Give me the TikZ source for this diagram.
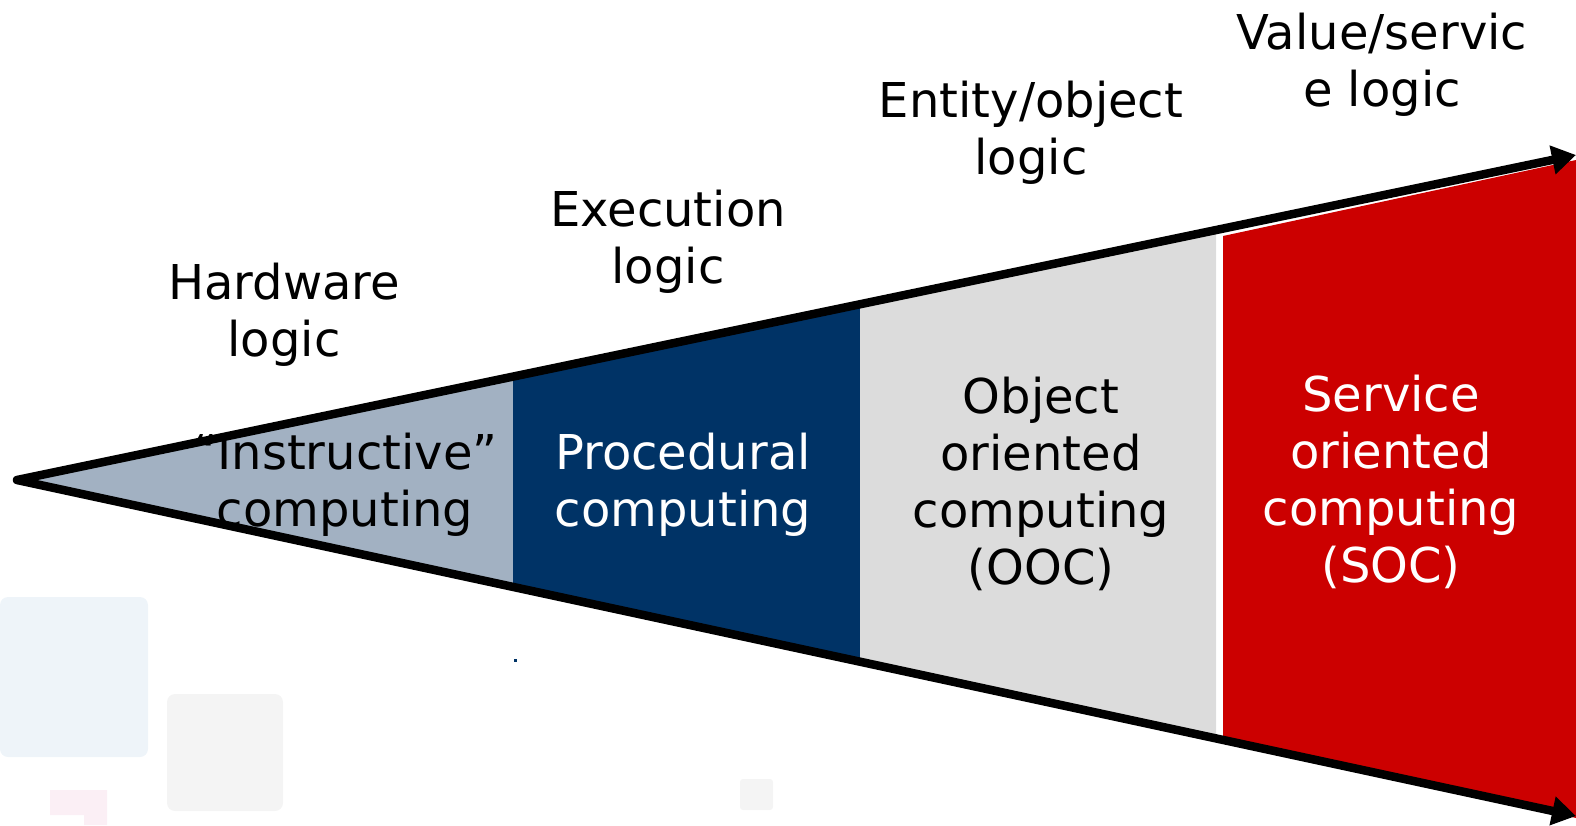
\documentclass[tikz,border=0pt]{standalone}
\usepackage{fontspec}
\setmainfont{DejaVu Sans}
\usetikzlibrary{arrows.meta}
\definecolor{steel}{HTML}{A2B1C2}
\definecolor{navy}{HTML}{003366}
\definecolor{lgray}{HTML}{DCDCDC}
\definecolor{dred}{HTML}{CC0000}
\definecolor{fblue}{HTML}{EEF4F9}
\definecolor{fgray}{HTML}{F4F4F4}
\definecolor{fpink}{HTML}{FBEFF5}
\tikzset{
  lbl/.style={align=center, inner sep=0pt, font=\fontsize{48}{57}\selectfont},
  wlbl/.style={lbl, text=white},
  axis/.style={line width=8.5pt, line cap=round, -{Triangle[length=24pt,width=28pt]}},
}
\begin{document}
\begin{tikzpicture}[x=1pt,y=-1pt]
\useasboundingbox (0,0) rectangle (1576,825);
% faint background shapes
\fill[fblue, rounded corners=8pt] (0,597) rectangle (148,757);
\fill[fgray, rounded corners=8pt] (167,694) rectangle (283,811);
\fill[fgray, rounded corners=3pt] (740,779) rectangle (773,810);
\fill[fpink] (50,790) -- (107,790) -- (107,825) -- (84,825) -- (84,815) -- (50,815) -- cycle;
\fill[navy] (514,659) rectangle (517,662);
% coordinates
\coordinate (apex) at (17,480);
\coordinate (uptip) at (1576,155);
\coordinate (lotip) at (1576,816);
% segments
\fill[steel] (apex) -- (513,376) -- (513,586) -- cycle;
\fill[navy] (513,376) -- (860,304) -- (860,662) -- (513,586) -- cycle;
\fill[lgray] (860,304) -- (1216,229) -- (1216,738) -- (860,662) -- cycle;
\fill[dred] (1223,236) -- (1576,160) -- (1576,818) -- (1223,738) -- cycle;
% axes
\draw[axis] (apex) -- (uptip);
\draw[axis] (apex) -- (lotip);
% labels
\node[lbl] (hw) at (284,315) {Hardware\\logic};
\node[lbl] (ex) at (668,242) {Execution\\logic};
\node[lbl] (en) at (1031,133) {Entity/object\\logic};
\node[lbl] (va) at (1382,65) {Value/servic\\e logic};
\node[lbl] (ins) at (345,485) {“Instructive”\\computing};
\node[wlbl] (pro) at (683,485) {Procedural\\computing};
\node[lbl] (ooc) at (1041,484) {Object\\oriented\\computing\\(OOC)};
\node[wlbl] (soc) at (1391,482) {Service\\oriented\\computing\\(SOC)};
\end{tikzpicture}
\end{document}
